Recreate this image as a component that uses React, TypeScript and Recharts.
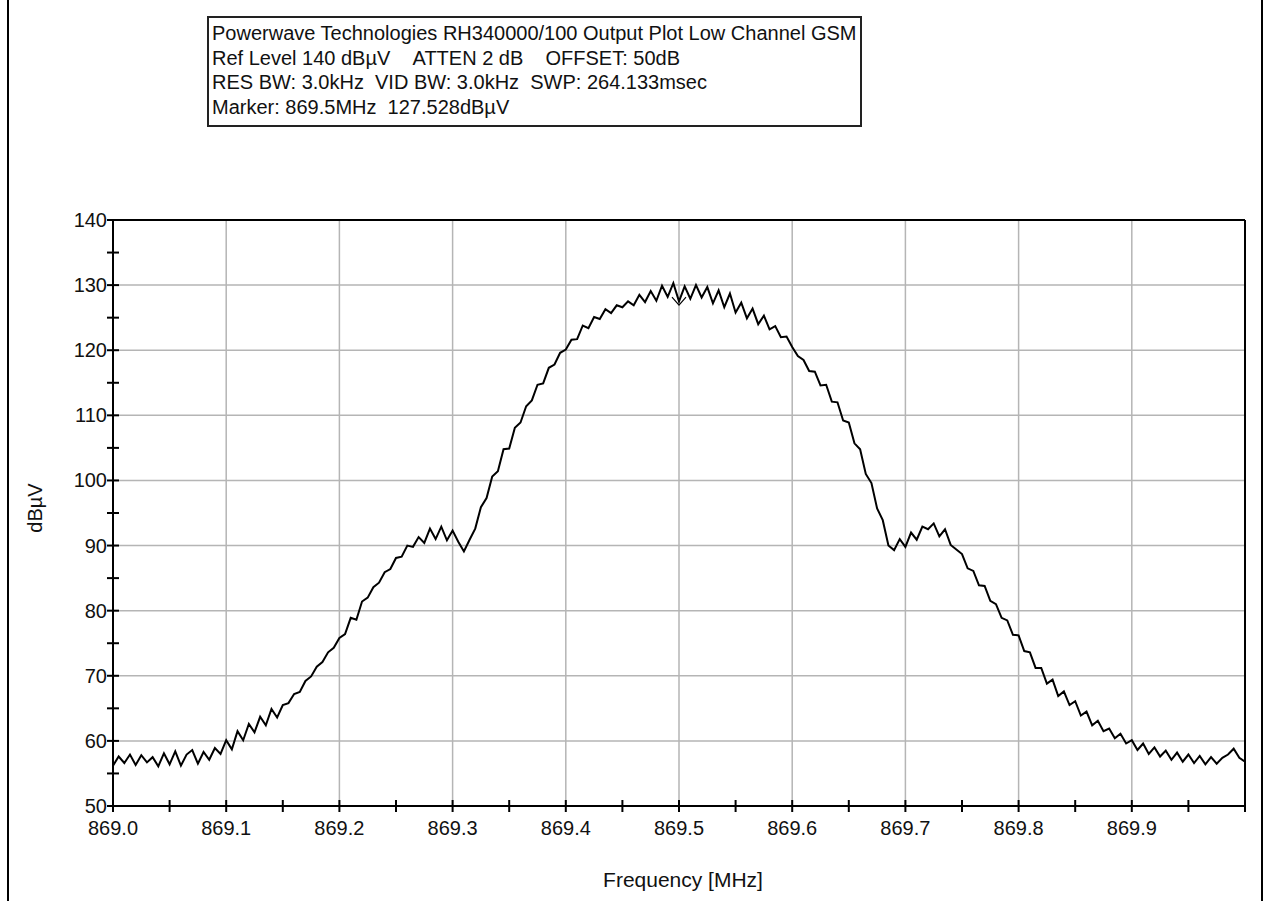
import { LineChart, Line, XAxis, YAxis, ReferenceLine, ReferenceDot } from "recharts";

// spectrum analyser trace, 869.000 .. 870.000 MHz, 5 kHz per point
const FREQ_START = 869.0;
const FREQ_STEP = 0.005;
const LEVELS = [
  56.2, 57.6, 56.6, 57.9, 56.3, 57.8, 56.7, 57.5, 56.1, 58.1,
  56.4, 58.4, 56.2, 57.9, 58.6, 56.5, 58.3, 57.1, 58.9, 58.0,
  60.1, 58.7, 61.5, 60.1, 62.6, 61.3, 63.7, 62.4, 64.9, 63.6,
  65.5, 65.8, 67.2, 67.5, 69.2, 69.9, 71.4, 72.1, 73.6, 74.3,
  75.8, 76.4, 78.9, 78.6, 81.4, 82.0, 83.6, 84.3, 85.9, 86.4,
  88.1, 88.3, 90.0, 89.8, 91.3, 90.4, 92.6, 91.0, 92.9, 90.8,
  92.3, 90.6, 89.1, 90.9, 92.6, 95.9, 97.3, 100.6, 101.4, 104.8,
  104.9, 108.1, 108.9, 111.4, 112.3, 114.7, 114.9, 117.3, 117.8, 119.6,
  120.1, 121.6, 121.7, 123.8, 123.4, 125.1, 124.8, 126.3, 125.7, 126.9,
  126.6, 127.5, 126.9, 128.5, 127.4, 129.1, 127.6, 129.9, 128.2, 130.3,
  127.5, 129.8, 127.9, 130.0, 128.1, 129.7, 127.2, 129.2, 126.6, 128.7,
  125.8, 127.3, 124.9, 126.4, 124.0, 125.3, 123.2, 123.7, 122.0, 122.1,
  120.5, 119.1, 118.5, 116.8, 116.7, 114.6, 114.7, 112.1, 112.0, 109.2,
  108.9, 105.7, 104.8, 101.0, 99.6, 95.7, 93.9, 90.0, 89.3, 91.0,
  89.8, 92.0, 90.9, 92.9, 92.5, 93.4, 91.4, 92.5, 90.1, 89.4,
  88.7, 86.5, 86.1, 83.9, 83.8, 81.5, 81.0, 78.9, 78.5, 76.3,
  76.2, 73.8, 73.6, 71.2, 71.2, 68.8, 69.4, 66.9, 67.6, 65.5,
  66.1, 63.9, 64.5, 62.4, 63.1, 61.5, 61.9, 60.4, 61.1, 59.6,
  60.1, 58.6, 59.6, 58.0, 59.0, 57.6, 58.5, 57.1, 58.2, 56.8,
  57.9, 56.6, 57.7, 56.4, 57.5, 56.5, 57.4, 57.9, 58.8, 57.4,
  56.8,
];

const X_TICKS = [
  869.0, 869.05, 869.1, 869.15, 869.2, 869.25, 869.3, 869.35, 869.4, 869.45, 869.5,
  869.55, 869.6, 869.65, 869.7, 869.75, 869.8, 869.85, 869.9, 869.95, 870.0,
];
const X_LABELED = [869.0, 869.1, 869.2, 869.3, 869.4, 869.5, 869.6, 869.7, 869.8, 869.9];
const Y_TICKS = [50, 55, 60, 65, 70, 75, 80, 85, 90, 95, 100, 105, 110, 115, 120, 125, 130, 135, 140];
const Y_GRID = [60, 70, 80, 90, 100, 110, 120, 130];
const X_GRID = [869.1, 869.2, 869.3, 869.4, 869.5, 869.6, 869.7, 869.8, 869.9];

const MARKER_FREQ = 869.5;
const MARKER_LEVEL = 127.528;

const TITLE_LINES = [
  "Powerwave Technologies RH340000/100 Output Plot Low Channel GSM",
  "Ref Level 140 dB\u00b5V\u00a0\u00a0\u00a0\u00a0ATTEN 2 dB\u00a0\u00a0\u00a0\u00a0OFFSET: 50dB",
  "RES BW: 3.0kHz\u00a0\u00a0VID BW: 3.0kHz\u00a0\u00a0SWP: 264.133msec",
  "Marker: 869.5MHz\u00a0\u00a0127.528dB\u00b5V",
];

const data = LEVELS.map((v, i) => ({ f: +(FREQ_START + i * FREQ_STEP).toFixed(3), v }));

const FONT = "'Liberation Sans', Arial, sans-serif";
const AXIS_X = 113;
const AXIS_Y = 806;

function YTick({ y, payload }: any) {
  const v = payload.value;
  return (
    <g>
      <line x1={AXIS_X - 6} x2={AXIS_X + 6} y1={y} y2={y} stroke="#000" strokeWidth={2} />
      {v % 10 === 0 && (
        <text x={AXIS_X - 6} y={y} dy={7} textAnchor="end" fontSize={20} fontFamily={FONT} fill="#111">
          {v}
        </text>
      )}
    </g>
  );
}

function XTick({ x, payload }: any) {
  const v = payload.value;
  const labeled = X_LABELED.some((t) => Math.abs(t - v) < 1e-6);
  return (
    <g>
      <line x1={x} x2={x} y1={AXIS_Y - 6} y2={AXIS_Y + 6} stroke="#000" strokeWidth={2} />
      {labeled && (
        <text x={x} y={AXIS_Y + 29} textAnchor="middle" fontSize={20} fontFamily={FONT} fill="#111">
          {v.toFixed(1)}
        </text>
      )}
    </g>
  );
}

function MarkerShape({ cx, cy }: any) {
  return <polyline points={`${cx - 7},${cy - 4} ${cx},${cy + 4} ${cx + 7},${cy - 4}`} fill="none" stroke="#000" strokeWidth={1.2} />;
}

export default function App() {
  return (
    <div
      style={{
        position: "absolute",
        left: 0,
        top: 0,
        width: 1268,
        height: 901,
        background: "#fff",
        fontFamily: FONT,
        overflow: "hidden",
      }}
    >
      <div style={{ position: "absolute", left: 7, top: 0, width: 2, height: 901, background: "#000" }} />
      <div style={{ position: "absolute", left: 1261, top: 0, width: 2, height: 901, background: "#000" }} />

      <div
        style={{
          position: "absolute",
          left: 207,
          top: 16,
          width: 648,
          height: 104,
          border: "2px solid #222",
          padding: "3px 0 0 3px",
          fontSize: 20,
          lineHeight: "24.5px",
          color: "#111",
          whiteSpace: "nowrap",
        }}
      >
        {TITLE_LINES.map((t) => (
          <div key={t}>{t}</div>
        ))}
      </div>

      <LineChart width={1268} height={901} data={data} margin={{ top: 220, right: 23, bottom: 55, left: 53 }}>
        {X_GRID.map((f) => (
          <ReferenceLine key={"vx" + f} x={f} stroke="#b5b5b5" strokeWidth={1.5} />
        ))}
        {Y_GRID.map((l) => (
          <ReferenceLine key={"hy" + l} y={l} stroke="#b5b5b5" strokeWidth={1.5} />
        ))}
        <ReferenceLine x={870} stroke="#000" strokeWidth={2} />
        <ReferenceLine y={140} stroke="#000" strokeWidth={2} />
        <XAxis
          dataKey="f"
          type="number"
          domain={[869, 870]}
          ticks={X_TICKS}
          interval={0}
          height={40}
          axisLine={{ stroke: "#000", strokeWidth: 2 }}
          tickLine={false}
          tick={<XTick />}
          allowDataOverflow
        />
        <YAxis
          type="number"
          domain={[50, 140]}
          ticks={Y_TICKS}
          interval={0}
          width={60}
          axisLine={{ stroke: "#000", strokeWidth: 2 }}
          tickLine={false}
          tick={<YTick />}
          allowDataOverflow
        />
        <Line
          dataKey="v"
          type="linear"
          stroke="#000"
          strokeWidth={2}
          dot={false}
          isAnimationActive={false}
        />
        <ReferenceDot x={MARKER_FREQ} y={MARKER_LEVEL} r={4} shape={<MarkerShape />} />
      </LineChart>

      <div
        style={{
          position: "absolute",
          left: 35,
          top: 508,
          transform: "translate(-50%, -50%) rotate(-90deg)",
          fontSize: 20,
          color: "#111",
          whiteSpace: "nowrap",
        }}
      >
        dBµV
      </div>
      <div
        style={{
          position: "absolute",
          left: 683,
          top: 880,
          transform: "translate(-50%, -50%)",
          fontSize: 21,
          color: "#111",
          whiteSpace: "nowrap",
        }}
      >
        Frequency [MHz]
      </div>
    </div>
  );
}
